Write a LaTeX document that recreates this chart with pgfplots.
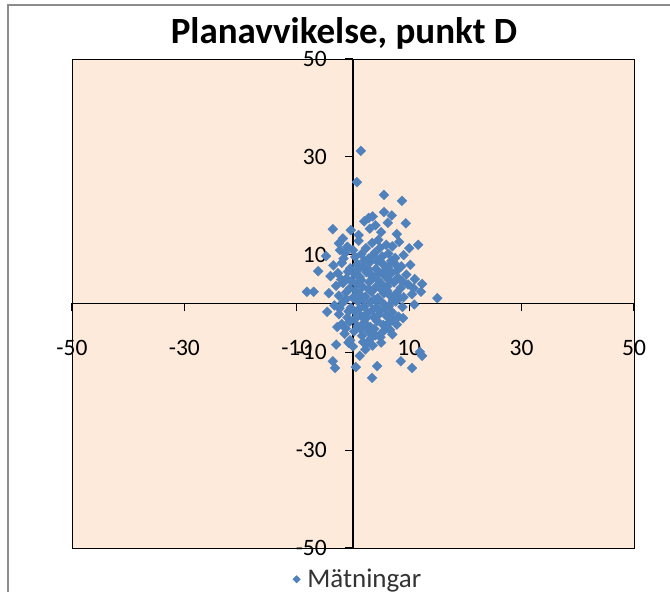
\documentclass[border=0pt]{standalone}
\usepackage{pgfplots}
\pgfplotsset{compat=1.18}
\usepackage{fontspec}
\setmainfont{Carlito}
\definecolor{plotbg}{HTML}{FDEADA}
\definecolor{markc}{HTML}{4F81BD}
\begin{document}
\begin{tikzpicture}[x=1pt,y=1pt]
\path[use as bounding box] (0,0) rectangle (670,592);
\fill[white] (0,0) rectangle (670,592);
\begin{scope}
\clip (0,0) rectangle (670,592);
\draw[black!45, line width=2pt] (8,-10) rectangle (700,587);
\end{scope}
\node[font=\fontsize{37}{37}\selectfont\bfseries] at (344,559) {Planavvikelse, punkt D};
\begin{axis}[
  at={(72pt,44pt)}, anchor=south west, scale only axis,
  width=562pt, height=489pt,
  xmin=-50, xmax=50, ymin=-50, ymax=50,
  axis lines=middle,
  axis line style={-, line width=1.5pt, black},
  axis background/.style={fill=plotbg, draw=black, line width=0.9pt},
  xtick={-50,-30,-10,10,30,50},
  ytick={-50,-30,-10,10,30,50},
  tick align=outside, major tick length=8pt,
  tick style={black, line width=1.2pt},
  /pgf/number format/assume math mode=true,
  ticklabel style={font=\fontsize{23.5}{23.5}\selectfont, inner sep=0pt},
  xticklabel style={anchor=center, yshift=-36pt},
  yticklabel style={anchor=east, xshift=-18pt},
  legend style={at={(0.509,-0.064)}, anchor=center, draw=none, fill=none,
    font=\fontsize{27}{27}\selectfont, text=black!80},
  legend image code/.code={\draw[mark=square*, mark size=2.6pt, mark options={rotate=45, fill=markc, draw=markc}] plot coordinates {(0pt,0pt)};},
]
\addplot[only marks, mark=square*, mark size=3.5pt,
  mark options={rotate=45, fill=markc, draw=markc, line width=0.3pt}]
coordinates {
(1.4,31.2)(0.7,24.8)(5.5,22.2)(8.7,21.0)(5.5,18.7)(6.9,18.0)(2.8,17.5)(2.0,16.8)
(3.5,17.8)(9.4,16.4)(-3.6,15.2)(-0.4,15.0)(11.6,12.0)(10.0,11.3)(-6.2,6.6)
(-8.2,2.4)(-7.0,2.4)(-4.3,2.1)(15.0,1.1)(12.1,2.4)(12.3,4.0)(-3.6,-11.8)
(-3.2,-13.2)(0.5,-13.0)(1.2,-10.7)(4.3,-12.8)(3.4,-15.2)(8.5,-11.8)(10.5,-13.2)
(11.9,-9.9)(12.3,-10.7)(-0.5,-7.5)(2.5,-8.0)(-2.8,-4.8)(-4.6,-1.7)(6.6,-5.4)(8.9,-3.0)
(4.0,16.0)(6.2,16.5)(3.0,15.3)
(-2.5,12.3)(-1.0,11.6)(1.0,12.8)(2.3,11.3)(3.4,12.4)(4.5,13.0)(5.9,12.0)(7.0,11.7)(8.2,12.6)
(-4.8,9.7)(-2.3,10.9)(-1.4,10.3)(0.4,9.5)(1.5,10.1)(2.8,9.2)(3.9,10.4)(5.2,9.6)(6.3,10.2)(7.5,9.3)(9.0,9.9)
(-3.5,7.8)(-2.0,8.3)(-0.5,7.2)(0.8,8.0)(1.9,7.5)(3.0,8.4)(4.1,7.1)(5.3,8.1)(6.2,7.4)(7.4,8.2)(8.6,7.6)(10.2,7.9)
(-4.0,5.6)(-2.7,6.2)(-1.2,5.1)(0.3,6.0)(1.2,5.4)(2.4,6.4)(3.5,5.2)(4.6,6.1)(5.8,5.5)(6.9,6.3)(8.0,5.3)(9.5,5.9)(11.0,5.0)
(-3.0,3.6)(-1.8,4.2)(-0.6,3.1)(0.6,4.0)(1.7,3.4)(2.9,4.4)(4.0,3.3)(5.0,4.1)(6.1,3.5)(7.3,4.3)(8.5,3.2)(9.8,3.9)(10.8,3.1)
(-2.5,1.6)(-1.2,2.3)(0.0,1.2)(1.1,2.0)(2.2,1.4)(3.3,2.4)(4.4,1.1)(5.5,2.1)(6.7,1.5)(7.8,2.2)(9.0,1.3)(10.5,1.9)
(-3.3,-0.4)(-1.8,0.2)(-0.4,-0.9)(0.9,0.4)(2.0,-0.6)(3.1,0.3)(4.2,-0.8)(5.3,0.1)(6.4,-0.5)(7.6,0.4)(8.8,-0.7)(10.9,-0.2)
(-2.5,-2.2)(-1.0,-2.9)(0.4,-1.7)(1.5,-2.6)(2.6,-1.9)(3.7,-2.8)(4.8,-1.6)(5.9,-2.5)(7.0,-1.8)(8.1,-2.7)
(-2.0,-4.2)(-0.6,-3.7)(0.8,-4.6)(2.0,-3.9)(3.1,-4.8)(4.3,-3.6)(5.4,-4.4)(6.5,-3.8)(7.8,-4.3)
(-1.5,-6.2)(0.2,-5.7)(1.6,-6.6)(2.8,-5.8)(4.0,-6.5)(5.2,-5.9)(7.0,-6.3)
(-3.0,-8.4)(0.0,-8.8)(1.8,-7.9)(3.5,-8.6)(5.0,-8.0)
(-1.7,9.2)(0.0,10.9)(2.0,8.8)(3.5,9.8)(4.8,11.4)(6.8,8.7)(-0.9,6.5)(0.9,6.9)(2.7,7.0)(4.3,8.6)
(5.7,6.8)(7.8,6.7)(-2.1,4.9)(-0.3,4.6)(1.4,4.8)(3.2,5.9)(4.5,4.7)(6.4,4.9)(8.7,4.6)(-1.2,0.9)
(0.5,2.6)(1.8,0.9)(2.8,2.9)(3.8,0.8)(4.9,3.0)(6.1,2.6)(7.1,0.7)(8.3,1.1)(-2.4,-1.0)(-0.8,-1.6)
(1.1,-1.1)(2.3,-3.0)(3.5,-1.3)(4.5,-2.4)(5.8,-1.0)(6.9,-3.2)(-1.3,-5.1)(0.3,-3.2)(1.4,-5.3)(2.5,-4.6)
(3.8,-5.2)(4.9,-6.9)(6.0,-5.0)(-0.8,-8.0)(2.2,-9.4)(3.3,-7.0)(1.0,14.0)(5.0,14.6)(7.8,14.2)(-1.8,13.3)
};
\addlegendentry{\hspace{5pt}Mätningar}
\end{axis}
\end{tikzpicture}
\end{document}
